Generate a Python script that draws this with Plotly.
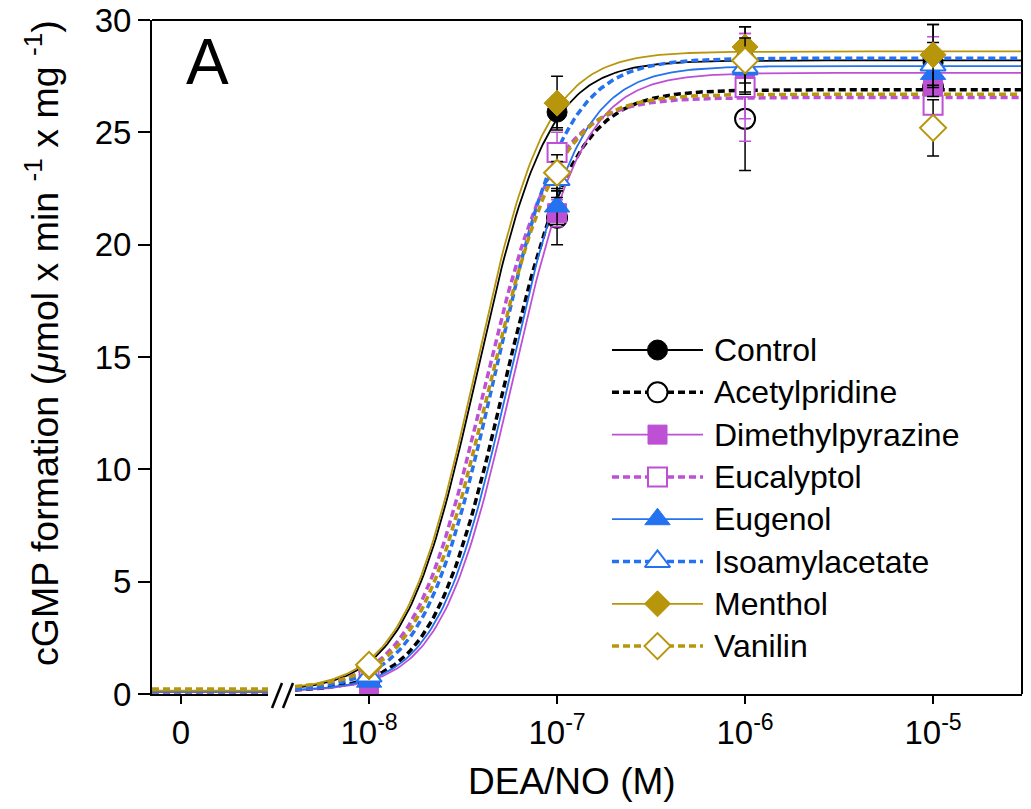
import numpy as np
import plotly.graph_objects as go

# ---------------- data ----------------
conc = [1e-8, 1e-7, 1e-6, 1e-5]
tick_labels = ["10<sup>-8</sup>", "10<sup>-7</sup>", "10<sup>-6</sup>", "10<sup>-5</sup>"]

names = ["Control", "Acetylpridine", "Dimethylpyrazine", "Eucalyptol",
         "Eugenol", "Isoamylacetate", "Menthol", "Vanilin"]

control = [0.6, 25.9, 28.2, 28.1]
acetylpridine = [0.5, 21.2, 25.6, 27.0]
dimethylpyrazine = [0.35, 21.4, 27.5, 27.1]
eucalyptol = [0.9, 24.1, 27.0, 26.2]
eugenol = [0.55, 21.7, 27.8, 27.6]
isoamylacetate = [0.8, 22.9, 27.9, 28.0]
menthol = [1.2, 26.3, 28.8, 28.45]
vanilin = [1.3, 23.2, 28.2, 25.2]

control_err = [0.1, 0.7, 1.5, 1.7]
acetylpridine_err = [0.1, 1.2, 2.3, 1.2]
dimethylpyrazine_err = [0.1, 0.6, 1.9, 2.15]
eucalyptol_err = [0.1, 0.9, 2.4, 1.0]
eugenol_err = [0.1, 0.8, 1.0, 1.0]
isoamylacetate_err = [0.1, 0.8, 1.2, 1.0]
menthol_err = [0.2, 1.2, 0.9, 1.35]
vanilin_err = [0.2, 0.8, 1.0, 1.25]

# fitted sigmoid parameters
fit_bottom = [0.10, 0.10, 0.10, 0.15, 0.12, 0.15, 0.15, 0.22]
fit_top = [28.2, 26.9, 27.65, 26.55, 27.95, 28.3, 28.6, 26.7]
fit_logec50 = [-7.43, -7.287, -7.239, -7.394, -7.255, -7.332, -7.436, -7.367]
fit_hill = [2.3, 2.3, 2.3, 2.3, 2.3, 2.3, 2.3, 2.3]

values = [control, acetylpridine, dimethylpyrazine, eucalyptol,
          eugenol, isoamylacetate, menthol, vanilin]
errors = [control_err, acetylpridine_err, dimethylpyrazine_err, eucalyptol_err,
          eugenol_err, isoamylacetate_err, menthol_err, vanilin_err]

# ---------------- styles ----------------
BLACK = "#000000"
PURPLE = "#BE50D6"
BLUE = "#2472F0"
GOLD = "#B8960C"
colors = [BLACK, BLACK, PURPLE, PURPLE, BLUE, BLUE, GOLD, GOLD]
filled = [True, False, True, False, True, False, True, False]
symbols = ["circle", "circle", "square", "square", "triangle-up", "triangle-up", "diamond", "diamond"]
sizes = [20, 20, 19, 19, 22, 22, 20, 20]
err_colors = [BLACK, BLACK, PURPLE, PURPLE, BLACK, BLACK, BLACK, BLACK]


def line_style(i):
    if filled[i]:
        return dict(color=colors[i], width=1.8)
    return dict(color=colors[i], width=3.5, dash="7px,4px")


def marker_style(i):
    if filled[i]:
        return dict(symbol=symbols[i], size=sizes[i], color=colors[i],
                    line=dict(color=colors[i], width=1))
    return dict(symbol=symbols[i], size=sizes[i], color="white",
                line=dict(color=colors[i], width=2))


LOG_LO, LOG_HI = -8.394, -4.527
x_curve = np.logspace(LOG_LO, LOG_HI, 300)

fig = go.Figure()

# baseline (zero concentration) segment
for i in range(8):
    fig.add_trace(go.Scatter(x=[-0.25, 0.75], y=[fit_bottom[i]] * 2, mode="lines",
                             line=line_style(i), xaxis="x", yaxis="y",
                             hoverinfo="skip", showlegend=False))

# fitted curves
for i in range(8):
    y_curve = fit_bottom[i] + (fit_top[i] - fit_bottom[i]) / (
        1 + 10 ** ((fit_logec50[i] - np.log10(x_curve)) * fit_hill[i]))
    fig.add_trace(go.Scatter(x=x_curve, y=y_curve, mode="lines", line=line_style(i),
                             xaxis="x2", yaxis="y", hoverinfo="skip", showlegend=False))

# data points with error bars
for i in range(8):
    fig.add_trace(go.Scatter(
        x=conc, y=values[i], mode="markers", name=names[i],
        marker=marker_style(i),
        error_y=dict(type="data", array=errors[i], visible=True,
                     color=err_colors[i], thickness=1.5, width=6),
        xaxis="x2", yaxis="y", showlegend=False))

# ---------------- geometry (window pixel coordinates) ----------------
W, H = 1031, 809
PLOT_L, PLOT_R, PLOT_T, PLOT_B = 152, 1022, 20, 694   # plot area in the window
L, T, R, B = PLOT_L, PLOT_T, W - PLOT_R, H - PLOT_B
PW, PH = PLOT_R - PLOT_L, PLOT_B - PLOT_T


def px_x(p):
    return (p - PLOT_L) / PW


def px_y(p):
    return (PLOT_B - p) / PH


# custom legend (drawn on its own hidden axes, in window pixel units)
leg_y = [350, 392.3, 434.6, 476.9, 519.2, 561.5, 603.8, 646.1]
for i in range(8):
    fig.add_trace(go.Scatter(x=[612, 703], y=[leg_y[i]] * 2, mode="lines", line=line_style(i),
                             xaxis="x3", yaxis="y3", hoverinfo="skip", showlegend=False))
    fig.add_trace(go.Scatter(x=[657.5], y=[leg_y[i]], mode="markers", marker=marker_style(i),
                             xaxis="x3", yaxis="y3", hoverinfo="skip", showlegend=False))
    fig.add_annotation(x=712, y=leg_y[i], xref="x3", yref="y3", text=names[i],
                       showarrow=False, xanchor="left", yanchor="middle",
                       font=dict(size=32, color="black"))

axis_common = dict(showline=True, linewidth=2, linecolor="black", ticks="outside",
                   tickwidth=2, tickcolor="black", showgrid=False, zeroline=False,
                   automargin=False, ticklabeloverflow="allow",
                   tickfont=dict(size=33, color="black"))

fig.update_layout(
    width=W, height=H,
    margin=dict(l=L, r=R, t=T, b=B, autoexpand=False),
    plot_bgcolor="white", paper_bgcolor="white",
    showlegend=False,
    font=dict(family="Arial, 'Liberation Sans', Helvetica, sans-serif", color="black"),
    xaxis=dict(domain=[0, px_x(268)], range=[-0.25, 0.75], tickvals=[0], ticktext=["0"],
               ticklen=8, anchor="y", **axis_common),
    xaxis2=dict(domain=[px_x(295), 1], type="log", range=[LOG_LO, LOG_HI],
                tickvals=conc, ticktext=tick_labels, ticklen=8, anchor="y", **axis_common),
    yaxis=dict(domain=[0, 1], range=[0, 30], tickvals=[0, 5, 10, 15, 20, 25, 30],
               ticklen=12, anchor="x", **axis_common),
    xaxis3=dict(domain=[px_x(600), px_x(1020)], range=[600, 1020], visible=False,
                anchor="y3", fixedrange=True),
    yaxis3=dict(domain=[px_y(670), px_y(325)], range=[670, 325], visible=False,
                anchor="x3", fixedrange=True),
)

# frame: top and right borders, axis break marks
fig.add_shape(type="line", xref="paper", yref="paper", x0=0, x1=1, y0=1, y1=1,
              line=dict(color="black", width=2))
fig.add_shape(type="line", xref="paper", yref="paper", x0=1, x1=1, y0=0, y1=1,
              line=dict(color="black", width=2))
for a, b in [(272, 282), (283, 293)]:
    fig.add_shape(type="line", xref="paper", yref="paper",
                  x0=px_x(a), x1=px_x(b), y0=px_y(708), y1=px_y(683),
                  line=dict(color="black", width=2.5))

# panel letter, axis titles
fig.add_annotation(x=px_x(184), y=px_y(62), xref="paper", yref="paper", text="A",
                   showarrow=False, xanchor="left", yanchor="middle",
                   font=dict(size=64, color="black"))
fig.add_annotation(x=px_x(572), y=px_y(781), xref="paper", yref="paper", text="DEA/NO (M)",
                   showarrow=False, xanchor="center", yanchor="middle",
                   font=dict(size=37, color="black"))
fig.add_annotation(x=px_x(42), y=px_y(343), xref="paper", yref="paper",
                   text="cGMP formation (<i>μ</i>mol x min <sup>-1</sup> x mg <sup>-1</sup>)",
                   textangle=-90, showarrow=False, xanchor="center", yanchor="middle",
                   font=dict(size=37.5, color="black"))

# the chart fills the whole window: remove the page's default body margin
fig.write_html("out.html", config={"displayModeBar": False},
               post_script="document.body.style.margin='0';document.body.style.overflow='hidden';")
